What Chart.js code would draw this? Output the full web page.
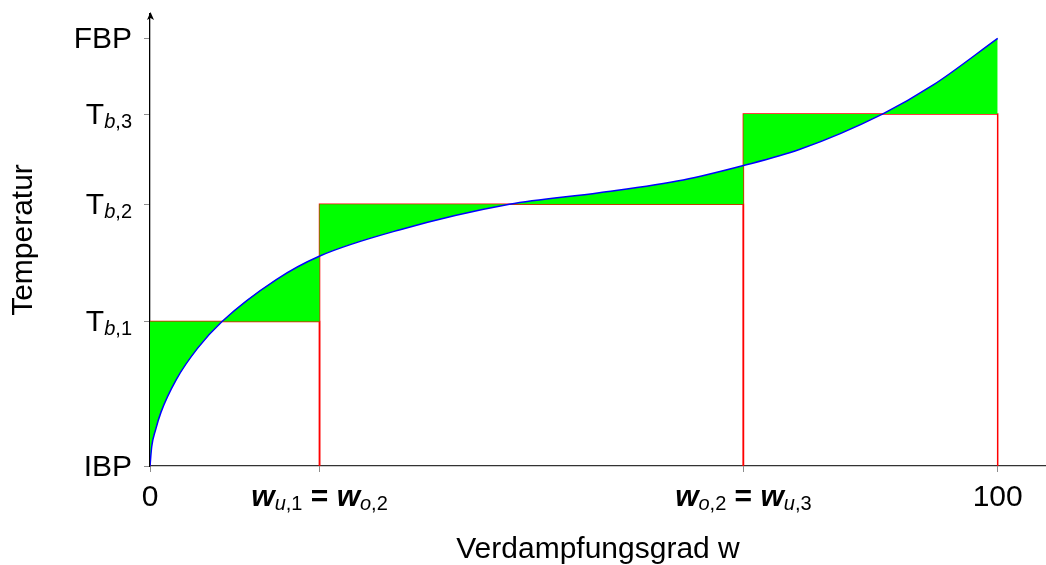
<!DOCTYPE html>
<html>
<head>
<meta charset="utf-8">
<script src="https://cdn.jsdelivr.net/npm/chart.js@4.4.0/dist/chart.umd.min.js"></script>
<style>
  html, body { margin: 0; background: #fff; }
</style>
</head>
<body>
<canvas id="chart" width="1046" height="565"></canvas>
<script>
// boiling cuts: start / end of each cut on the evaporation axis and its boiling temperature
const cutStart = [0, 20, 70];
const cutEnd = [20, 70, 100];
const cutTemp = [33.8, 61.2, 82.3];

// tick positions and labels (_{...} = subscript, lowercase letters set in italics)
const xTickValues = [0, 20, 70, 100];
const xTickLabels = ['0', 'w_{u,1} = w_{o,2}', 'w_{o,2} = w_{u,3}', '100'];
const yTickValues = [0, 33.8, 61.2, 82.3, 100];
const yTickLabels = ['IBP', 'T_{b,1}', 'T_{b,2}', 'T_{b,3}', 'FBP'];

// boiling curve: evaporated fraction w vs. temperature (IBP = 0, FBP = 100)
const curveW = [0, 0.2, 0.65, 1.3, 3.1, 5.6, 8.5, 14.9, 19.9, 29.4, 42.4, 53.0, 62.9, 69.9, 76.6, 86.4, 92.4, 100];
const curveT = [0, 4.5, 8.4, 12.6, 20.2, 27.5, 33.8, 43.6, 49.0, 55.2, 61.2, 63.9, 66.9, 70.2, 74.0, 82.3, 89.1, 100];

const fontFamily = '"Liberation Sans", Arial, Helvetica, sans-serif';
const mainSize = 30;
const subSize = 20;

function parseLabel(str) {
  const runs = [];
  const re = /_\{([^}]*)\}|([^_]+)/g;
  let m;
  while ((m = re.exec(str))) {
    const sub = m[1] !== undefined;
    const text = sub ? m[1] : m[2];
    for (const part of text.match(/[a-z]+|=|[^a-z=]+/g)) {
      const italic = /[a-z]/.test(part);
      // math symbols in the main line are set heavier
      const bold = !sub && (italic || part === '=');
      runs.push({ text: part, italic, bold, sub });
    }
  }
  return runs;
}

function setFont(ctx, run) {
  ctx.font = (run.italic ? 'italic ' : '') + (run.bold ? 'bold ' : '') +
    (run.sub ? subSize : mainSize) + 'px ' + fontFamily;
}

function drawLabel(ctx, str, x, y, align) {
  const runs = parseLabel(str);
  let width = 0;
  runs.forEach(r => {
    setFont(ctx, r);
    r.w = ctx.measureText(r.text).width;
    width += r.w;
  });
  let cx = align === 'right' ? x - width : align === 'center' ? x - width / 2 : x;
  runs.forEach(r => {
    setFont(ctx, r);
    ctx.fillText(r.text, cx, y + (r.sub ? 4 : 0));
    cx += r.w;
  });
}

// tick labels with subscripts, tick marks through the y axis and its arrow head
const axisDecor = {
  id: 'axisDecor',
  afterDraw(chart) {
    const { ctx, scales: { x, y } } = chart;
    ctx.save();
    ctx.fillStyle = '#000';
    ctx.textAlign = 'left';
    ctx.textBaseline = 'alphabetic';
    xTickValues.forEach((v, i) => {
      drawLabel(ctx, xTickLabels[i], x.getPixelForValue(v), y.bottom + 40, 'center');
    });
    yTickValues.forEach((v, i) => {
      drawLabel(ctx, yTickLabels[i], y.right - 18, y.getPixelForValue(v) + 10, 'right');
    });
    const ax = y.right + 0.5, ay = y.top;
    ctx.beginPath();
    ctx.moveTo(ax, ay - 2);
    ctx.lineTo(ax - 3.5, ay + 6);
    ctx.lineTo(ax, ay + 4);
    ctx.lineTo(ax + 3.5, ay + 6);
    ctx.closePath();
    ctx.fill();
    ctx.restore();
  }
};

const curvePoints = curveW.map((w, i) => ({ x: w, y: curveT[i] }));
const stepPoints = [...cutStart, cutEnd[cutEnd.length - 1]].map((w, i) => ({ x: w, y: cutTemp[Math.min(i, cutTemp.length - 1)] }));

const cutBoxes = cutStart.map((s, i) => ({
  data: [
    { x: s, y: 0 },
    { x: s, y: cutTemp[i] },
    { x: cutEnd[i], y: cutTemp[i] },
    { x: cutEnd[i], y: 0 }
  ],
  borderColor: '#ff0000',
  borderWidth: 1.5,
  pointRadius: 0,
  fill: false,
  tension: 0
}));

function axisTitle(text, pad) {
  return {
    display: true,
    text,
    color: '#000',
    font: { family: fontFamily, size: mainSize, lineHeight: 1 },
    padding: pad
  };
}

new Chart(document.getElementById('chart'), {
  type: 'line',
  data: {
    datasets: [
      {
        data: curvePoints,
        borderColor: '#0000ff',
        borderWidth: 1.5,
        backgroundColor: '#00ff00',
        fill: '+1',
        cubicInterpolationMode: 'monotone',
        pointRadius: 0
      },
      {
        data: stepPoints,
        stepped: true,
        borderColor: 'rgba(0,0,0,0)',
        borderWidth: 0,
        pointRadius: 0,
        fill: false
      },
      ...cutBoxes
    ]
  },
  options: {
    responsive: false,
    animation: false,
    events: [],
    layout: { padding: { top: 14, right: 0, bottom: 0, left: 0 } },
    plugins: {
      legend: { display: false },
      tooltip: { enabled: false }
    },
    scales: {
      x: {
        type: 'linear',
        min: 0,
        max: 105.7,
        afterBuildTicks: s => { s.ticks = xTickValues.map(v => ({ value: v })); },
        afterFit: s => { s.height = 99; },
        ticks: { display: false },
        grid: { drawOnChartArea: false, color: '#8c8c8c', tickLength: 6 },
        border: { color: '#333', width: 1.3 },
        title: axisTitle('Verdampfungsgrad w', { top: 0, bottom: 0 })
      },
      y: {
        type: 'linear',
        min: 0,
        max: 105.7,
        afterBuildTicks: s => { s.ticks = yTickValues.map(v => ({ value: v })); },
        afterFit: s => { s.width = 150; },
        ticks: { display: false },
        grid: { drawOnChartArea: false, color: '#8c8c8c', tickLength: 6 },
        border: { color: '#000', width: 1.3 },
        title: axisTitle('Temperatur', { top: 9, bottom: 0 })
      }
    }
  },
  plugins: [axisDecor]
});
</script>
</body>
</html>
